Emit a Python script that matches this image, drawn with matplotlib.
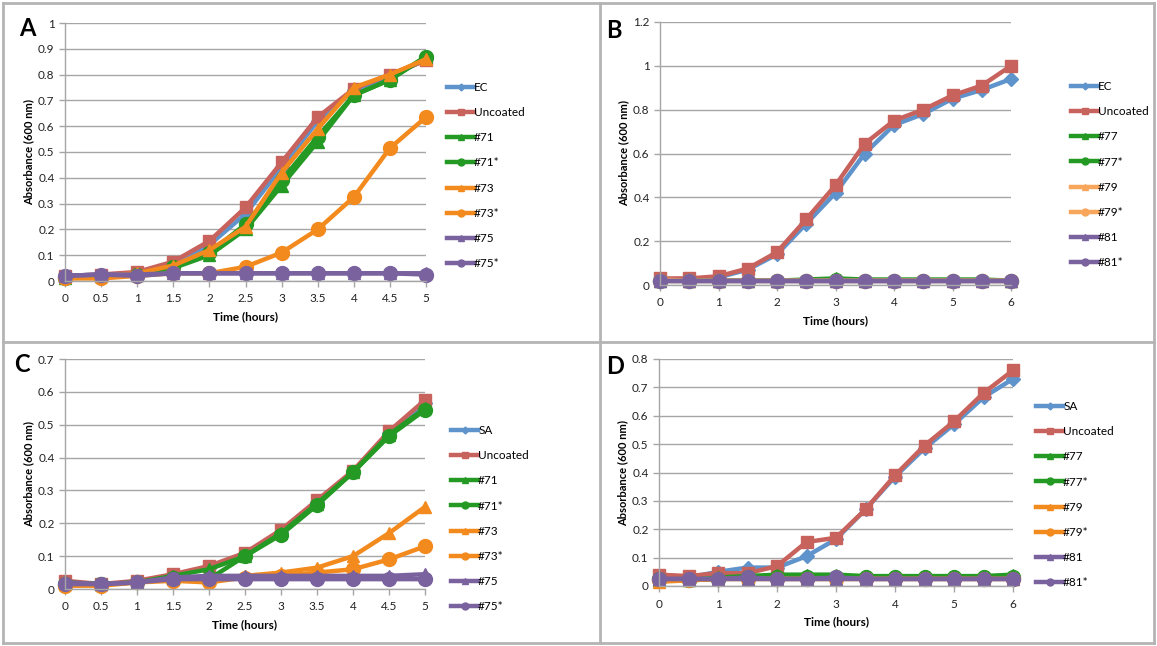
import matplotlib
matplotlib.use("Agg")
import matplotlib.pyplot as plt
from matplotlib.lines import Line2D
from matplotlib.ticker import FuncFormatter

plt.rcParams['font.family'] = ['Lato', 'DejaVu Sans']

# time points
t5 = [0, 0.5, 1, 1.5, 2, 2.5, 3, 3.5, 4, 4.5, 5]
t6 = [0, 0.5, 1, 1.5, 2, 2.5, 3, 3.5, 4, 4.5, 5, 5.5, 6]

# panel A (E. coli, #71 / #73 / #75)
labels_a = ['EC', 'Uncoated', '#71', '#71*', '#73', '#73*', '#75', '#75*']
a_ec = [0.02, 0.025, 0.03, 0.06, 0.14, 0.26, 0.44, 0.62, 0.74, 0.79, 0.86]
a_unc = [0.02, 0.025, 0.035, 0.075, 0.155, 0.285, 0.46, 0.635, 0.745, 0.80, 0.855]
a_71 = [0.01, 0.02, 0.025, 0.05, 0.10, 0.20, 0.37, 0.54, 0.72, 0.78, 0.87]
a_71s = [0.01, 0.02, 0.025, 0.055, 0.11, 0.22, 0.39, 0.56, 0.72, 0.78, 0.87]
a_73 = [0.015, 0.02, 0.03, 0.06, 0.12, 0.21, 0.42, 0.59, 0.75, 0.80, 0.86]
a_73s = [0.01, 0.01, 0.02, 0.03, 0.03, 0.055, 0.11, 0.20, 0.325, 0.515, 0.635]
a_75 = [0.02, 0.025, 0.025, 0.03, 0.03, 0.03, 0.03, 0.03, 0.03, 0.03, 0.03]
a_75s = [0.02, 0.025, 0.02, 0.03, 0.03, 0.03, 0.03, 0.03, 0.03, 0.03, 0.025]

# panel B (E. coli, #77 / #79 / #81)
labels_b = ['EC', 'Uncoated', '#77', '#77*', '#79', '#79*', '#81', '#81*']
b_ec = [0.02, 0.025, 0.035, 0.07, 0.14, 0.28, 0.42, 0.60, 0.73, 0.78, 0.85, 0.89, 0.94]
b_unc = [0.03, 0.03, 0.04, 0.075, 0.15, 0.30, 0.455, 0.645, 0.75, 0.80, 0.865, 0.91, 1.0]
b_77 = [0.02, 0.02, 0.02, 0.02, 0.02, 0.025, 0.03, 0.025, 0.025, 0.025, 0.025, 0.025, 0.02]
b_77s = [0.02, 0.02, 0.02, 0.02, 0.02, 0.02, 0.025, 0.02, 0.02, 0.02, 0.02, 0.02, 0.02]
b_79 = [0.025, 0.02, 0.02, 0.02, 0.02, 0.02, 0.02, 0.02, 0.02, 0.02, 0.02, 0.02, 0.02]
b_79s = [0.02, 0.02, 0.02, 0.02, 0.02, 0.02, 0.02, 0.02, 0.02, 0.02, 0.02, 0.02, 0.02]
b_81 = [0.02, 0.02, 0.02, 0.02, 0.02, 0.02, 0.02, 0.02, 0.02, 0.02, 0.02, 0.02, 0.02]
b_81s = [0.02, 0.02, 0.02, 0.02, 0.02, 0.02, 0.02, 0.02, 0.02, 0.02, 0.02, 0.02, 0.02]

# panel C (S. aureus, #71 / #73 / #75)
labels_c = ['SA', 'Uncoated', '#71', '#71*', '#73', '#73*', '#75', '#75*']
c_sa = [0.02, 0.015, 0.02, 0.04, 0.065, 0.10, 0.175, 0.265, 0.355, 0.475, 0.565]
c_unc = [0.025, 0.015, 0.025, 0.045, 0.07, 0.11, 0.18, 0.27, 0.36, 0.48, 0.575]
c_71 = [0.02, 0.015, 0.02, 0.04, 0.06, 0.10, 0.17, 0.26, 0.355, 0.47, 0.55]
c_71s = [0.015, 0.015, 0.02, 0.035, 0.03, 0.10, 0.165, 0.255, 0.355, 0.465, 0.545]
c_73 = [0.015, 0.015, 0.02, 0.03, 0.035, 0.04, 0.05, 0.065, 0.10, 0.17, 0.25]
c_73s = [0.01, 0.01, 0.02, 0.025, 0.02, 0.035, 0.04, 0.05, 0.06, 0.09, 0.13]
c_75 = [0.02, 0.015, 0.02, 0.035, 0.04, 0.04, 0.04, 0.04, 0.04, 0.04, 0.045]
c_75s = [0.015, 0.015, 0.02, 0.03, 0.03, 0.03, 0.03, 0.03, 0.03, 0.03, 0.03]

# panel D (S. aureus, #77 / #79 / #81)
labels_d = ['SA', 'Uncoated', '#77', '#77*', '#79', '#79*', '#81', '#81*']
d_sa = [0.03, 0.03, 0.05, 0.065, 0.065, 0.105, 0.165, 0.27, 0.385, 0.485, 0.57, 0.665, 0.73]
d_unc = [0.04, 0.035, 0.045, 0.045, 0.07, 0.155, 0.17, 0.27, 0.39, 0.495, 0.58, 0.68, 0.76]
d_77 = [0.02, 0.02, 0.03, 0.035, 0.04, 0.04, 0.04, 0.035, 0.035, 0.035, 0.035, 0.035, 0.04]
d_77s = [0.025, 0.02, 0.025, 0.03, 0.03, 0.03, 0.03, 0.03, 0.03, 0.03, 0.03, 0.03, 0.03]
d_79 = [0.015, 0.02, 0.025, 0.025, 0.025, 0.025, 0.025, 0.025, 0.025, 0.025, 0.025, 0.025, 0.025]
d_79s = [0.02, 0.02, 0.025, 0.025, 0.025, 0.025, 0.025, 0.025, 0.025, 0.025, 0.025, 0.025, 0.025]
d_81 = [0.025, 0.025, 0.025, 0.025, 0.025, 0.025, 0.025, 0.025, 0.025, 0.025, 0.025, 0.025, 0.025]
d_81s = [0.025, 0.025, 0.025, 0.03, 0.025, 0.025, 0.03, 0.025, 0.025, 0.025, 0.025, 0.025, 0.025]

blue = '#5F93CC'
red = '#C8625D'
green = '#249A24'
orange = '#F38A1E'
lorange = '#F8A65C'
purple = '#7A629F'
markers = ['D', 's', '^', 'o', '^', 'o', '^', 'o']
msizes = [7, 9, 9, 10, 9, 10, 9, 10]

W, H = 1157, 646
fig = plt.figure(figsize=(W / 100, H / 100), dpi=100)


def px_axes(left, top, right, bottom):
    return fig.add_axes([left / W, 1 - bottom / H, (right - left) / W, (bottom - top) / H])


def panel(box, t, series, labels, colors, ymax, ystep, xticks, letter, letter_xy, leg_xy):
    ax = px_axes(*box)
    for y, lab, c, m, ms in zip(series, labels, colors, markers, msizes):
        ax.plot(t, y, color=c, lw=3.2, marker=m, ms=ms, mec=c, mfc=c, label=lab,
                solid_joinstyle='round', clip_on=False)
    ax.set_xlim(t[0], t[-1])
    ax.set_ylim(0, ymax)
    n = int(round(ymax / ystep))
    ax.set_yticks([i * ystep for i in range(n + 1)])
    ax.set_xticks(xticks)
    fmt = FuncFormatter(lambda v, p: ('%.1f' % v).rstrip('0').rstrip('.'))
    ax.yaxis.set_major_formatter(fmt)
    ax.xaxis.set_major_formatter(fmt)
    ax.grid(axis='y', color='#A6A6A6', lw=1)
    ax.set_axisbelow(True)
    for s in ['top', 'right']:
        ax.spines[s].set_visible(False)
    for s in ['left', 'bottom']:
        ax.spines[s].set_color('#A6A6A6')
        ax.spines[s].set_linewidth(1)
    ax.tick_params(axis='both', colors='#A6A6A6', labelcolor='#222222', labelsize=8.5,
                   length=4, width=1)
    ax.tick_params(axis='x', pad=5)
    ax.set_xlabel('Time (hours)', fontsize=8.5, fontweight='bold', labelpad=5)
    ax.set_ylabel('Absorbance (600 nm)', fontsize=8, fontweight='bold', labelpad=3)
    fig.text(letter_xy[0] / W, 1 - letter_xy[1] / H, letter, fontsize=17, fontweight='bold',
             ha='center', va='center')
    fig.legend(*ax.get_legend_handles_labels(), loc='upper left',
               bbox_to_anchor=(leg_xy[0] / W, 1 - leg_xy[1] / H),
               frameon=False, fontsize=8.5, handlelength=2.3, handletextpad=0.0,
               labelspacing=1.2, markerscale=0.5, borderaxespad=0, borderpad=0)
    return ax


cols_ab = [blue, red, green, green, orange, orange, purple, purple]
cols_b = [blue, red, green, green, lorange, lorange, purple, purple]

panel((65, 23, 426, 281), t5, [a_ec, a_unc, a_71, a_71s, a_73, a_73s, a_75, a_75s],
      labels_a, cols_ab, 1.0, 0.1, t5, 'A', (27, 29), (447, 82))
panel((660, 22, 1011, 285), t6, [b_ec, b_unc, b_77, b_77s, b_79, b_79s, b_81, b_81s],
      labels_b, cols_b, 1.2, 0.2, [0, 1, 2, 3, 4, 5, 6], 'B', (614, 30), (1071, 81))
panel((65, 359, 425, 589), t5, [c_sa, c_unc, c_71, c_71s, c_73, c_73s, c_75, c_75s],
      labels_c, cols_ab, 0.7, 0.1, t5, 'C', (22, 365), (451, 425))
panel((659, 359, 1013, 586), t6, [d_sa, d_unc, d_77, d_77s, d_79, d_79s, d_81, d_81s],
      labels_d, cols_ab, 0.8, 0.1, [0, 1, 2, 3, 4, 5, 6], 'D', (615, 367), (1036, 401))

# panel borders
gray = '#B4B4B4'
for (x0, y0, x1, y1) in [(3, 3, 1154, 3), (3, 643, 1154, 643), (3, 3, 3, 643),
                         (1154, 3, 1154, 643), (600, 3, 600, 643), (3, 342, 1154, 342)]:
    fig.add_artist(Line2D([x0 / W, x1 / W], [1 - y0 / H, 1 - y1 / H], color=gray, lw=2))

fig.savefig('out.png', dpi=100, facecolor='white')
